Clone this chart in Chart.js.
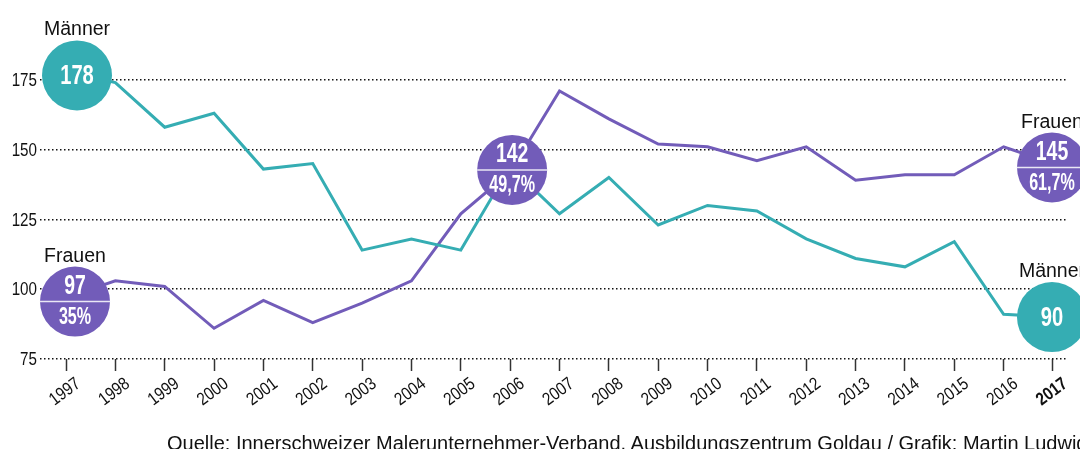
<!DOCTYPE html>
<html>
<head>
<meta charset="utf-8">
<script src="https://cdn.jsdelivr.net/npm/chart.js@4/dist/chart.umd.min.js"></script>
<style>
  html, body { margin: 0; padding: 0; background: #fff; overflow: hidden; }
  #wrap { position: relative; width: 1080px; height: 449px; }
  #source { position: absolute; left: 167px; top: 432px; font: 20px 'Liberation Sans', Arial, sans-serif; color: #111; white-space: nowrap; }
</style>
</head>
<body>
<div id="wrap">
  <canvas id="myChart" width="1080" height="449"></canvas>
  <div id="source">Quelle: Innerschweizer Malerunternehmer-Verband, Ausbildungszentrum Goldau / Grafik: Martin Ludwig</div>
</div>
<script>
// data
const years = [1997, 1998, 1999, 2000, 2001, 2002, 2003, 2004, 2005, 2006, 2007, 2008, 2009, 2010, 2011, 2012, 2013, 2014, 2015, 2016, 2017]
const maenner = [178, 174, 158, 163, 143, 145, 114, 118, 114, 144, 127, 140, 123, 130, 128, 118, 111, 108, 117, 91, 90]
const frauen = [97, 103, 101, 86, 96, 88, 95, 103, 127, 142, 171, 161, 152, 151, 146, 151, 139, 141, 141, 151, 145]
const yTicks = [75, 100, 125, 150, 175]

// callouts: which year, and the women's share printed under the number
const shareYears = [1997, 2006, 2017]
const frauenShare = ['35%', '49,7%', '61,7%']
const maennerCalloutYears = [1997, 2017]

const teal = '#35adb3'
const purple = '#725cb9'
const font = "'Liberation Sans', Arial, sans-serif"

// squeezed text, the original uses a condensed face
function narrowText(ctx, text, x, y, sx, angle) {
  ctx.save()
  ctx.translate(x, y)
  if(angle) ctx.rotate(angle)
  ctx.scale(sx, 1)
  ctx.fillText(text, 0, 0)
  ctx.restore()
}

// axis labels drawn from the scales, condensed
const axisLabelPlugin = {
  id: 'axisLabels',
  afterDraw(chart) {
    let ctx = chart.ctx
    let xs = chart.scales.x
    let ys = chart.scales.y
    ctx.save()
    ctx.fillStyle = '#111'
    ctx.textBaseline = 'middle'

    ctx.textAlign = 'right'
    ctx.font = '19px ' + font
    ys.ticks.forEach(t => {
      narrowText(ctx, String(t.value), 37, ys.getPixelForValue(t.value) + 1, 0.8)
    })

    ctx.textAlign = 'center'
    xs.ticks.forEach(t => {
      ctx.font = (t.value == 2017 ? 'bold ' : '') + '18px ' + font
      narrowText(ctx, String(t.value), xs.getPixelForValue(t.value) - 1, chart.chartArea.bottom + 33, 0.84, -37 * Math.PI / 180)
    })
    ctx.restore()
  }
}

// draws the round value bubbles on top of the lines
const calloutPlugin = {
  id: 'callouts',
  afterDatasetsDraw(chart) {
    let ctx = chart.ctx
    let r = 35

    function bubble(x, y, color, top, bottom, label) {
      ctx.save()
      ctx.beginPath()
      ctx.arc(x, y, r, 0, Math.PI * 2)
      ctx.fillStyle = color
      ctx.fill()
      ctx.fillStyle = '#fff'
      ctx.textAlign = 'center'
      ctx.textBaseline = 'middle'
      if(bottom) {
        ctx.strokeStyle = 'rgba(255,255,255,0.85)'
        ctx.lineWidth = 1.5
        ctx.beginPath()
        ctx.moveTo(x - r, y)
        ctx.lineTo(x + r, y)
        ctx.stroke()
        ctx.font = 'bold 27px ' + font
        narrowText(ctx, top, x, y - 15, 0.72)
        ctx.font = 'bold 23px ' + font
        narrowText(ctx, bottom, x, y + 16, 0.7)
      } else {
        ctx.font = 'bold 28px ' + font
        narrowText(ctx, top, x, y + 1, 0.72)
      }
      if(label) {
        ctx.fillStyle = '#111'
        ctx.font = '19.5px ' + font
        ctx.textBaseline = 'alphabetic'
        ctx.fillText(label, x, y - r - 5)
      }
      ctx.restore()
    }

    let mMeta = chart.getDatasetMeta(0)
    let fMeta = chart.getDatasetMeta(1)

    maennerCalloutYears.forEach(year => {
      let i = years.indexOf(year)
      let p = mMeta.data[i]
      if(i == 0) bubble(p.x + 11, p.y + 4, teal, String(maenner[i]), null, 'Männer')
      else bubble(p.x - 1, p.y, teal, String(maenner[i]), null, 'Männer')
    })

    shareYears.forEach((year, k) => {
      let i = years.indexOf(year)
      let p = fMeta.data[i]
      if(year == 1997) bubble(p.x + 9, p.y + 4, purple, String(frauen[i]), frauenShare[k], 'Frauen')
      else if(year == 2017) bubble(p.x - 1, p.y + 4, purple, String(frauen[i]), frauenShare[k], 'Frauen')
      else bubble(p.x + 2, p.y - 2, purple, String(frauen[i]), frauenShare[k], null)
    })
  }
}

let canvas = document.getElementById('myChart')
let ctx = canvas.getContext('2d')

let chart = new Chart(ctx, {
  type: 'line',
  data: {
    datasets: [{
      label: 'Männer',
      data: years.map((y, i) => ({x: y, y: maenner[i]})),
      borderColor: teal,
      borderWidth: 3,
      pointRadius: 0,
      fill: false,
      tension: 0
    }, {
      label: 'Frauen',
      data: years.map((y, i) => ({x: y, y: frauen[i]})),
      borderColor: purple,
      borderWidth: 3,
      pointRadius: 0,
      fill: false,
      tension: 0
    }]
  },
  options: {
    responsive: false,
    animation: false,
    devicePixelRatio: 1,
    layout: { padding: { top: 20, right: 13, bottom: 40, left: 0 } },
    plugins: {
      legend: { display: false },
      tooltip: { enabled: false }
    },
    scales: {
      x: {
        type: 'linear',
        min: 1996.473,
        max: 2017.284,
        afterBuildTicks: scale => { scale.ticks = years.map(v => ({value: v})) },
        afterFit: scale => { scale.height = 50 },
        border: { display: false },
        grid: {
          drawOnChartArea: false,
          drawTicks: true,
          tickLength: 12,
          tickColor: '#333',
          tickWidth: 1.5
        },
        ticks: { display: false }
      },
      y: {
        min: 75,
        max: 196.4,
        afterBuildTicks: scale => { scale.ticks = yTicks.map(v => ({value: v})) },
        afterFit: scale => { scale.width = 40 },
        border: { display: false, dash: [1.5, 2.5] },
        grid: {
          color: '#111',
          lineWidth: 1.5,
          drawTicks: false
        },
        ticks: { display: false }
      }
    }
  },
  plugins: [calloutPlugin, axisLabelPlugin]
})
</script>
</body>
</html>
